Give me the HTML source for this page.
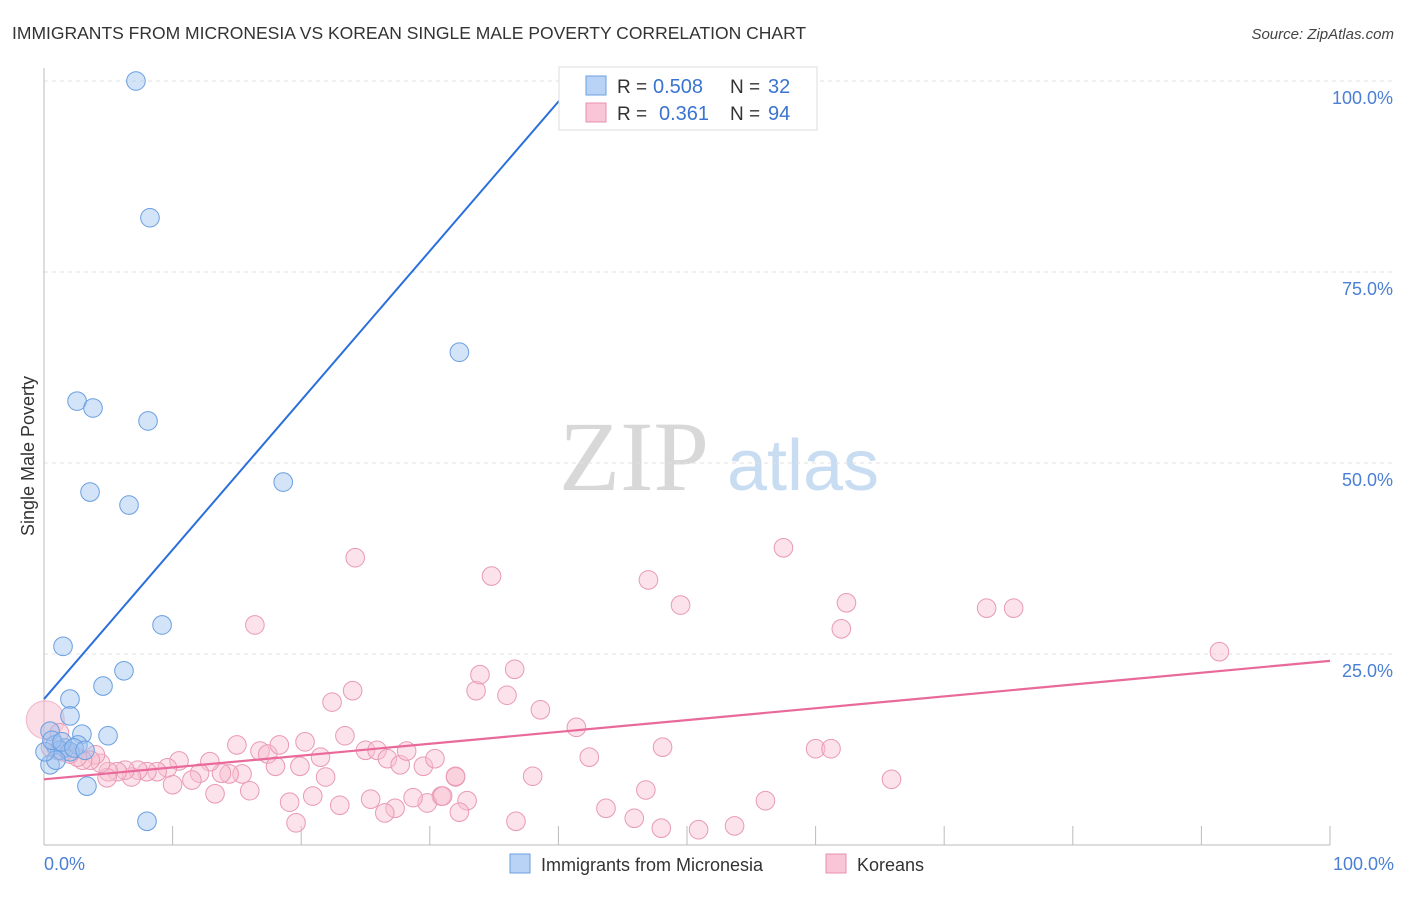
<!DOCTYPE html>
<html><head><meta charset="utf-8"><style>
body{margin:0;background:#fff;font-family:"Liberation Sans",sans-serif;}
</style></head><body>
<svg id="chart" width="1406" height="892" xmlns="http://www.w3.org/2000/svg" style="font-family:'Liberation Sans',sans-serif">
<text x="12" y="39" font-size="17.5" fill="#333">IMMIGRANTS FROM MICRONESIA VS KOREAN SINGLE MALE POVERTY CORRELATION CHART</text>
<text x="1394" y="39" font-size="15" fill="#444" text-anchor="end" font-style="italic">Source: ZipAtlas.com</text>
<g>
<text x="634" y="490" font-size="100" fill="#d8d8d8" font-family="Liberation Serif,serif" text-anchor="middle">ZIP</text>
<text x="803" y="490" font-size="72" fill="#c8dcf2" text-anchor="middle">atlas</text>
</g>
<g id="grid"></g>
<g id="axes"></g>
<g id="pts"></g>
<g id="lines"></g>
<text transform="translate(34,456) rotate(-90)" font-size="18" fill="#333" text-anchor="middle">Single Male Poverty</text>
<text x="44" y="870" font-size="18" fill="#4a7fd4">0.0%</text>
<text x="1394" y="870" font-size="18" fill="#4a7fd4" text-anchor="end">100.0%</text>
<g>
<rect x="559" y="67" width="258" height="63" fill="#fff" stroke="#ddd"/>
<rect x="586" y="76" width="20" height="19" fill="#b8d3f5" stroke="#6a9fe0"/>
<rect x="586" y="103" width="20" height="19" fill="#f8c6d6" stroke="#e890ad"/>
<text x="617" y="93" font-size="19" fill="#333">R =</text>
<text x="653" y="93" font-size="20" fill="#3a74d0">0.508</text>
<text x="730" y="93" font-size="19" fill="#333">N =</text>
<text x="768" y="93" font-size="20" fill="#3a74d0">32</text>
<text x="617" y="120" font-size="19" fill="#333">R =</text>
<text x="659" y="120" font-size="20" fill="#3a74d0">0.361</text>
<text x="730" y="120" font-size="19" fill="#333">N =</text>
<text x="768" y="120" font-size="20" fill="#3a74d0">94</text>
</g>
<g>
<rect x="510" y="854" width="20" height="19" fill="#b8d3f5" stroke="#6a9fe0"/>
<text x="541" y="871" font-size="18" fill="#333">Immigrants from Micronesia</text>
<rect x="826" y="854" width="20" height="19" fill="#f8c6d6" stroke="#e890ad"/>
<text x="857" y="871" font-size="18" fill="#333">Koreans</text>
</g>
</svg>
<script>
const yTicks=[25,50,75,100];
const yTickLabels=["25.0%","50.0%","75.0%","100.0%"];
const xTicks=[10,20,30,40,50,60,70,80,90,100];
const blueX=[7.15,8.24,32.3,2.57,3.81,8.09,3.58,6.61,18.6,9.18,1.48,6.22,4.59,2.02,2.02,2.95,4.98,0.47,0.86,1.63,2.64,1.24,2.02,0.47,0.93,3.34,8.01,0.08,0.62,1.4,2.33,3.19];
const blueY=[100,82.1,64.5,58.1,57.2,55.5,46.2,44.5,47.5,28.8,26.0,22.8,20.8,19.1,16.9,14.5,14.3,14.9,13.1,12.7,13.1,12.4,12.2,10.5,11.1,7.7,3.1,12.2,13.7,13.5,12.7,12.4];
const pinkX=[24.0,22.4,15.0,16.8,17.4,18.3,20.3,23.4,21.5,19.9,18.0,21.9,25.0,25.9,26.7,27.7,28.2,29.5,30.4,32.0,32.9,32.3,30.9,29.8,28.7,27.3,26.5,25.4,23.0,20.9,19.1,19.6,16.0,13.3,15.4,14.4,13.8,12.9,12.1,11.5,10.5,10.0,9.6,8.8,8.0,7.3,6.8,6.3,5.7,5.0,4.9,4.4,4.0,3.6,3.0,2.6,2.0,1.5,1.0,0.5,1.2,33.6,36.0,38.6,41.4,42.4,48.1,60.0,61.2,65.9,32.0,38.0,31.0,36.7,43.7,46.8,45.9,48.0,50.9,53.7,56.1,24.2,34.8,47.0,49.5,57.5,62.4,62.0,73.3,75.4,91.4,16.4,33.9,36.6];
const pinkY=[20.2,18.7,13.1,12.3,11.9,13.1,13.5,14.3,11.5,10.3,10.3,8.9,12.4,12.4,11.3,10.5,12.3,10.3,11.3,8.9,5.8,4.3,6.4,5.5,6.2,4.8,4.2,6.0,5.2,6.4,5.6,2.9,7.1,6.7,9.3,9.3,9.4,10.9,9.4,8.5,11.0,7.9,10.1,9.6,9.6,9.8,8.9,9.8,9.6,9.6,8.8,10.7,11.8,11.1,11.1,11.5,11.9,12.2,12.4,12.8,14.7,20.2,19.6,17.7,15.4,11.5,12.8,12.6,12.6,8.6,9.0,9.0,6.4,3.1,4.8,7.2,3.5,2.2,2.0,2.5,5.8,37.6,35.2,34.7,31.4,38.9,31.7,28.3,31.0,31.0,25.3,28.8,22.3,23.0];
const blueLine=[19.1,1.955];
const pinkLine=[8.6,0.155];
const NS="http://www.w3.org/2000/svg";
const X0=44,X1=1330,Y0=845,Y1=81;
function sx(v){return X0+(X1-X0)*v/100;}
function sy(v){return Y0-(Y0-Y1)*v/100;}
function mk(tag,attrs,parent){const e=document.createElementNS(NS,tag);for(const k in attrs)e.setAttribute(k,attrs[k]);parent.appendChild(e);return e;}
const grid=document.getElementById('grid'),axes=document.getElementById('axes'),pts=document.getElementById('pts'),lines=document.getElementById('lines');
yTicks.forEach((t,i)=>{
 const l=mk('line',{x1:X0,x2:1394,y1:sy(t),y2:sy(t),stroke:'#e2e2e2','stroke-dasharray':'4,4'},grid);
 
 
 const tx=mk('text',{x:1393,y:sy(t)+23,'font-size':18,fill:'#4a7fd4','text-anchor':'end'},axes);
 tx.textContent=yTickLabels[i];
 
 
});
const ax=mk('line',{x1:X0,x2:X0,y1:68,y2:Y0,stroke:'#bbb'},axes);


const bx=mk('line',{x1:X0,x2:X1,y1:Y0,y2:Y0,stroke:'#bbb'},axes);


xTicks.forEach(t=>{
 const l=mk('line',{x1:sx(t),x2:sx(t),y1:Y0,y2:Y0-19,stroke:'#bbb'},axes);
 
 
});
const big=mk('circle',{cx:sx(0.1),cy:sy(16.4),r:19,fill:'rgba(245,180,200,0.45)',stroke:'rgba(232,144,173,0.6)'},pts);


pinkX.forEach((x,i)=>{
 const c=mk('circle',{cx:sx(x),cy:sy(pinkY[i]),r:9.3,fill:'rgba(248,190,208,0.45)',stroke:'#e99ab5','stroke-width':1},pts);
 
 
});
blueX.forEach((x,i)=>{
 const c=mk('circle',{cx:sx(x),cy:sy(blueY[i]),r:9.3,fill:'rgba(160,196,240,0.45)',stroke:'#6a9fe0','stroke-width':1},pts);
 
 
});
const bEnd=(100-blueLine[0])/blueLine[1];
const bl=mk('line',{x1:sx(0),y1:sy(blueLine[0]),x2:sx(bEnd),y2:sy(100),stroke:'#2a6fdb','stroke-width':2},lines);


const pl=mk('line',{x1:sx(0),y1:sy(pinkLine[0]),x2:sx(100),y2:sy(pinkLine[0]+pinkLine[1]*100),stroke:'#e8699a','stroke-width':2.2},lines);


</script>
</body></html>
